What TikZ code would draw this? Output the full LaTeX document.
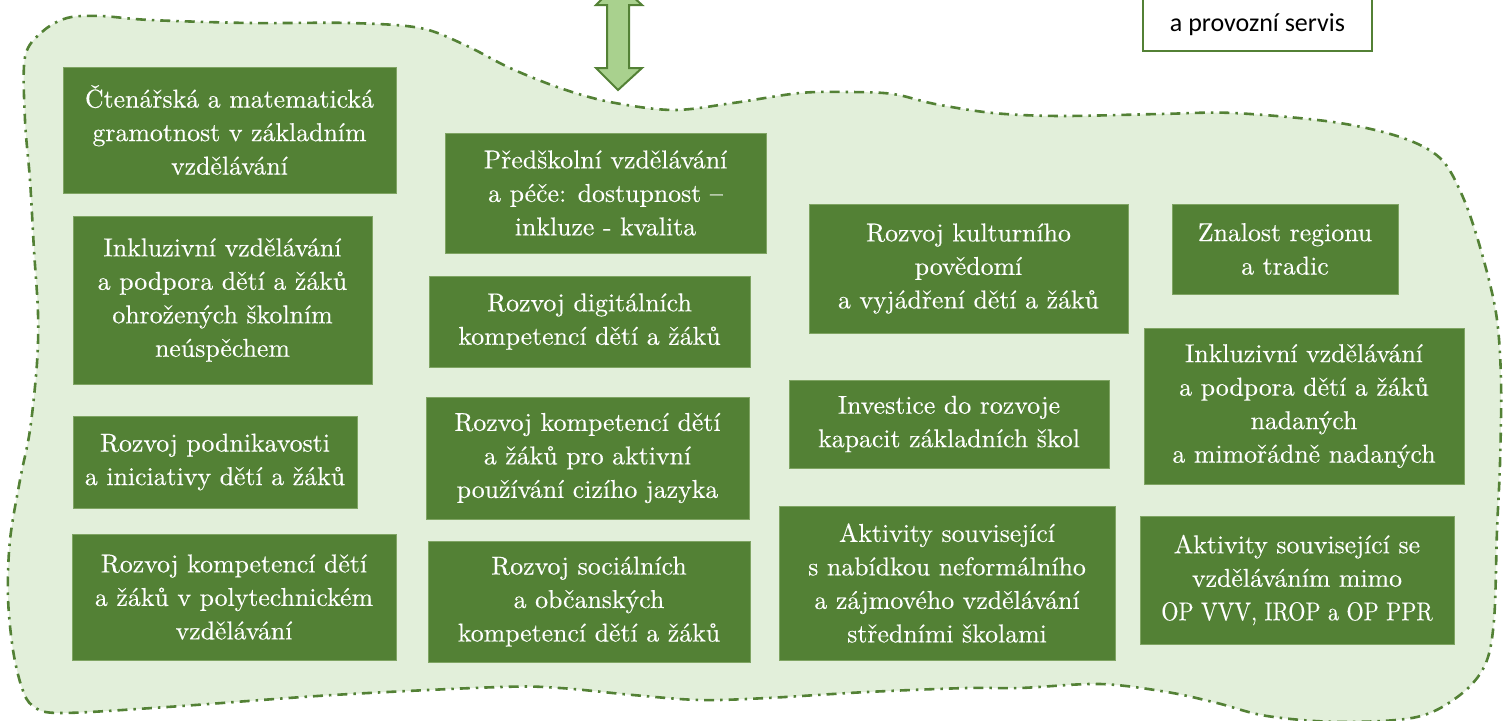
\documentclass[tikz,border=0pt]{standalone}
\usepackage{fontspec}
\newfontfamily\calibri{Carlito}
\newfontfamily\boxfont{lmroman10-regular.otf}[FakeBold=0.3]
\definecolor{boxgreen}{HTML}{538135}
\definecolor{boxedge}{HTML}{7FA463}
\definecolor{blobfill}{HTML}{E2EFDA}
\definecolor{arrowfill}{HTML}{A9D18E}
\begin{document}
\begin{tikzpicture}[x=1pt,y=-1pt,
  gbox/.style={fill=boxgreen, draw=boxedge, line width=0.8pt, text=white, align=center, inner sep=0pt, font=\boxfont\fontsize{25.8}{33.5}\selectfont},
  blob/.style={fill=blobfill, draw=boxgreen, line width=2.6pt, dash pattern=on 10pt off 6pt on 2.5pt off 6pt},
  servis/.style={fill=white, draw=boxgreen, line width=2pt, inner sep=0pt},
  servistext/.style={font=\calibri\fontsize{26}{30}\selectfont, text=black, inner sep=0pt},
  blockarrow/.style={fill=arrowfill, draw=boxgreen, line width=2pt, line join=miter}]
\useasboundingbox (0,0) rectangle (1503,720);
\clip (0,0) rectangle (1503,720);
% background blob
\draw[blob] plot[smooth cycle, tension=0.55] coordinates {
 (25,57) (42,32) (67,18) (100,16) (150,20) (250,23) (350,23) (420,28) (465,45) (510,68) (560,88) (610,102) (673,110) (733,103) (800,93) (850,92) (893,94) (935,104) (993,113) (1060,116) (1160,114) (1233,113) (1333,122) (1400,137) (1440,158) (1462,195) (1480,247) (1496,313) (1501,380) (1500,463) (1497,530) (1494,620) (1485,665) (1460,695) (1417,717) (1340,722) (1267,716) (1217,703) (1167,692) (1100,684) (1020,688) (967,688) (867,692) (767,698) (700,700) (633,695) (560,688) (500,687) (333,695) (167,707) (60,713) (33,706) (22,688) (13,650) (8,597) (10,540) (20,480) (30,430) (37,363) (38,313) (34,250) (30,180) (25,120)};
% block arrow
\draw[blockarrow] (618,90) -- (596,68) -- (607,68) -- (607,5) -- (596,5) -- (618,-17) -- (642,5) -- (629,5) -- (629,68) -- (642,68) -- cycle;
% top right box
\node[servis, minimum width=229pt, minimum height=131pt] (srv) at (1257.5,-14.5) {};
\node[servistext] (srvt) at (1257.5,25) {a provozní servis};
% boxes
\node[gbox, minimum width=333pt, minimum height=126pt] (b1) at (229.5,130) {Čtenářská a matematická\\gramotnost v základním\\vzdělávání};
\node[gbox, minimum width=299pt, minimum height=168pt] (b2) at (222.5,300) {Inkluzivní vzdělávání\\a podpora dětí a žáků\\ohrožených školním\\neúspěchem};
\node[gbox, minimum width=284pt, minimum height=92pt] (b3) at (215,462) {Rozvoj podnikavosti\\a iniciativy dětí a žáků};
\node[gbox, minimum width=324pt, minimum height=126pt] (b4) at (234,597) {Rozvoj kompetencí dětí\\a žáků v polytechnickém\\vzdělávání};
\node[gbox, minimum width=321pt, minimum height=120pt] (b5) at (605.5,193) {Předškolní vzdělávání\\a péče: dostupnost –\\inkluze - kvalita};
\node[gbox, minimum width=321pt, minimum height=91pt] (b6) at (589.5,321.5) {Rozvoj digitálních\\kompetencí dětí a žáků};
\node[gbox, minimum width=323pt, minimum height=122pt] (b7) at (587.5,458) {Rozvoj kompetencí dětí\\a žáků pro aktivní\\používání cizího jazyka};
\node[gbox, minimum width=322pt, minimum height=121pt] (b8) at (589,601.5) {Rozvoj sociálních\\a občanských\\kompetencí dětí a žáků};
\node[gbox, minimum width=319pt, minimum height=129pt] (b9) at (968.5,268.5) {Rozvoj kulturního\\povědomí\\a vyjádření dětí a žáků};
\node[gbox, minimum width=320pt, minimum height=88pt] (b10) at (949,424) {Investice do rozvoje\\kapacit základních škol};
\node[gbox, minimum width=336pt, minimum height=154pt] (b11) at (947,583) {Aktivity související\\s nabídkou neformálního\\a zájmového vzdělávání\\středními školami};
\node[gbox, minimum width=226pt, minimum height=90pt] (b12) at (1285,249) {Znalost regionu\\a tradic};
\node[gbox, minimum width=320pt, minimum height=156pt] (b13) at (1304,406) {Inkluzivní vzdělávání\\a podpora dětí a žáků\\nadaných\\a mimořádně nadaných};
\node[gbox, minimum width=314pt, minimum height=128pt] (b14) at (1297,580) {Aktivity související se\\vzděláváním mimo\\\scalebox{0.86}[1]{OP VVV, IROP a OP PPR}};
\end{tikzpicture}
\end{document}
